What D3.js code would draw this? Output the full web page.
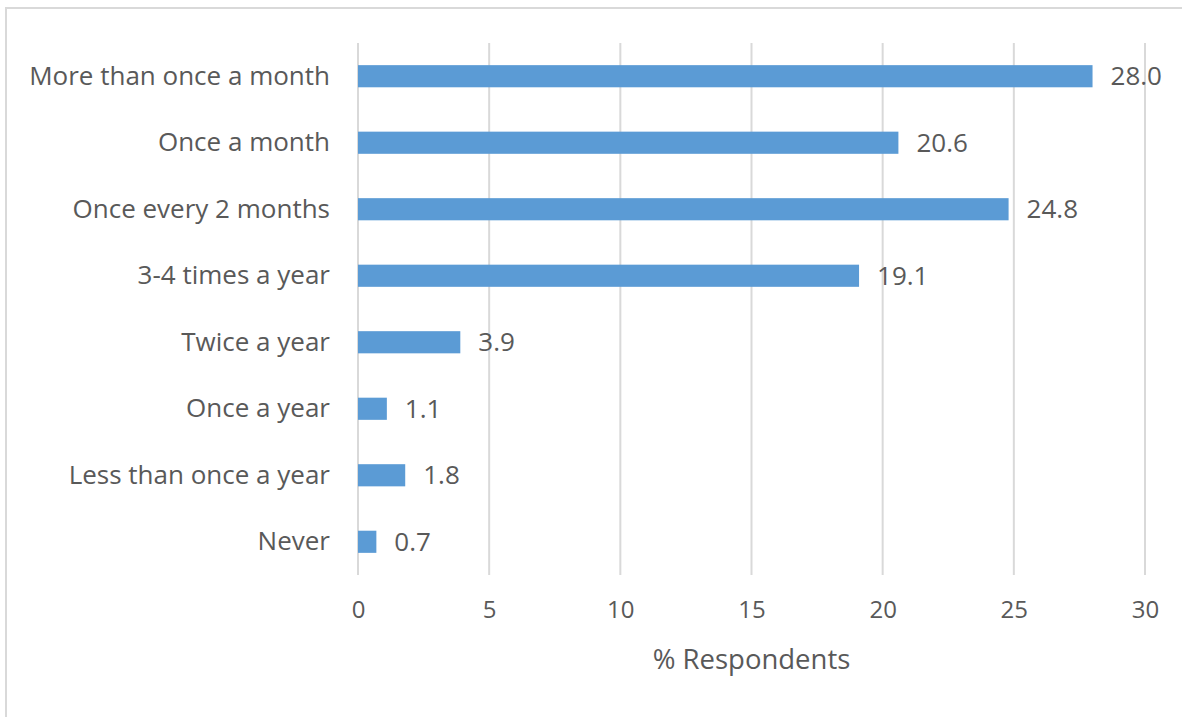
<!DOCTYPE html>
<html>
<head>
<meta charset="utf-8">
<script src="https://cdn.jsdelivr.net/npm/d3@7"></script>
<style>
  html, body { margin: 0; padding: 0; background: #fff; }
  svg { display: block; }
  text { font-family: "Open Sans", "Noto Sans", sans-serif; fill: #595959; }
</style>
</head>
<body>
<svg id="chart" width="1182" height="717"></svg>
<script>
const categories = ["More than once a month", "Once a month", "Once every 2 months", "3-4 times a year", "Twice a year", "Once a year", "Less than once a year", "Never"];
const values = [28.0, 20.6, 24.8, 19.1, 3.9, 1.1, 1.8, 0.7];
const xTicks = [0, 5, 10, 15, 20, 25, 30];
const xTitle = "% Respondents";

const svg = d3.select("#chart");
const W = 1182, H = 717;
const margin = { left: 358, right: 37, top: 43, bottom: 142 };

// chart frame (cropped)
svg.append("path")
  .attr("d", `M6,${H} L6,8 L${W},8`)
  .attr("fill", "none").attr("stroke", "#d9d9d9").attr("stroke-width", 2);

const x = d3.scaleLinear().domain([0, 30]).range([margin.left, W - margin.right]);
const y = d3.scaleBand().domain(categories).range([margin.top, H - margin.bottom]).paddingInner(0.667).paddingOuter(0.333);

// gridlines
svg.append("g").selectAll("line").data(xTicks).join("line")
  .attr("x1", d => x(d)).attr("x2", d => x(d))
  .attr("y1", margin.top).attr("y2", H - margin.bottom)
  .attr("stroke", "#d9d9d9").attr("stroke-width", 2);

// x axis labels
const xAxis = d3.axisBottom(x).tickValues(xTicks).tickSize(0).tickPadding(26).tickFormat(d3.format("d"));
const gx = svg.append("g").attr("transform", `translate(0,${H - margin.bottom})`).call(xAxis);
gx.select(".domain").remove();
gx.selectAll("text").style("font-size", "24px").attr("fill", "#595959").style("font-family", "'Open Sans', sans-serif");

// y axis labels
const yAxis = d3.axisLeft(y).tickSize(0).tickPadding(28);
const gy = svg.append("g").attr("transform", `translate(${margin.left},0)`).call(yAxis);
gy.select(".domain").remove();
gy.selectAll("text").style("font-size", "26px").attr("fill", "#595959").style("font-family", "'Open Sans', sans-serif");

// bars
svg.append("g").selectAll("rect").data(categories).join("rect")
  .attr("x", x(0))
  .attr("y", d => y(d))
  .attr("width", (d, i) => x(values[i]) - x(0))
  .attr("height", y.bandwidth())
  .attr("fill", "#5b9bd5");

// value labels
svg.append("g").selectAll("text").data(categories).join("text")
  .attr("x", (d, i) => x(values[i]) + 18)
  .attr("y", d => y(d) + y.bandwidth() / 2)
  .attr("dy", "0.35em")
  .style("font-size", "26px")
  .text((d, i) => values[i].toFixed(1));

// x title
svg.append("text")
  .attr("x", (x(0) + x(30)) / 2)
  .attr("y", 669)
  .attr("text-anchor", "middle")
  .style("font-size", "27.5px")
  .text(xTitle);
</script>
</body>
</html>
